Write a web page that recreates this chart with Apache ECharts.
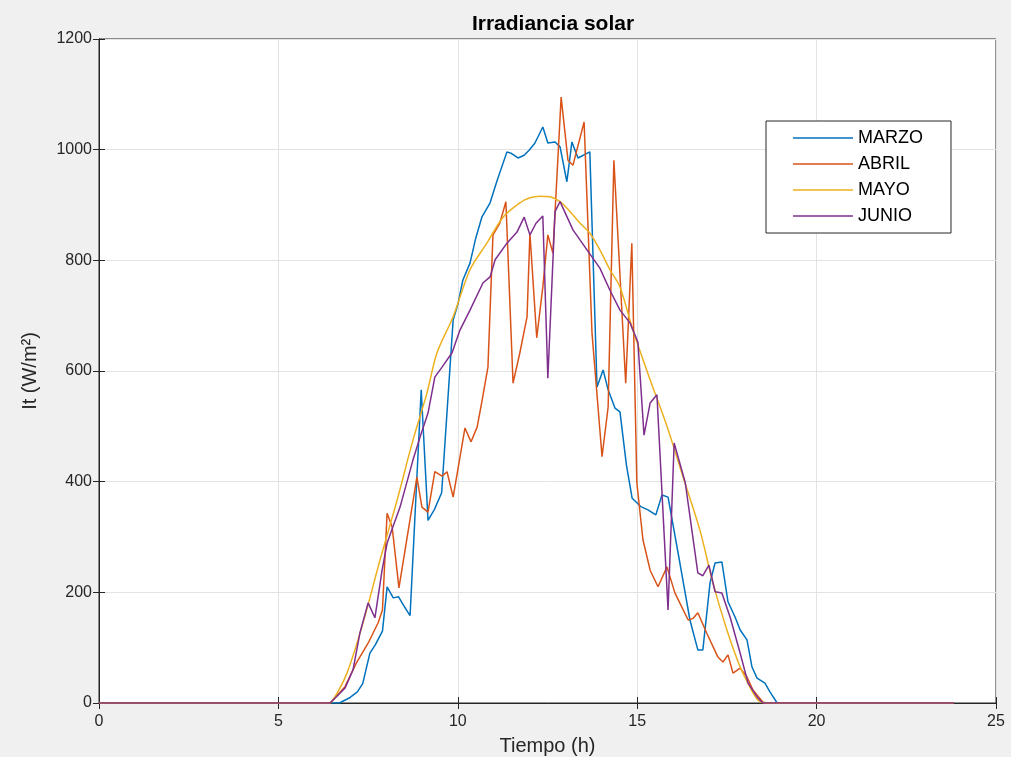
<!DOCTYPE html>
<html>
<head>
<meta charset="utf-8">
<script src="https://cdn.jsdelivr.net/npm/echarts@6/dist/echarts.min.js"></script>
<style>
  html, body { margin: 0; padding: 0; background: #f0f0f0; }
  #main { width: 1011px; height: 757px; }
</style>
</head>
<body>
<div id="main"></div>
<script>
// meses de la leyenda
const meses = ['MARZO', 'ABRIL', 'MAYO', 'JUNIO'];
const colores = ['#0072BD', '#D95319', '#EDB120', '#7E2F8E'];

// [hora, irradiancia W/m2]
const marzo = [[0,0],[6.7,0],[7.0,10],[7.2,20],[7.35,35],[7.55,90],[7.7,105],[7.9,130],[8.03,210],[8.2,190],
  [8.35,192],[8.5,175],[8.67,158],[8.98,566],[9.17,330],[9.35,350],[9.55,380],[9.87,692],[10.0,720],[10.14,764],
  [10.34,795],[10.5,840],[10.67,878],[10.9,904],[11.1,945],[11.37,996],[11.5,993],[11.68,985],[11.85,990],[12.0,1000],
  [12.15,1012],[12.37,1041],[12.51,1012],[12.71,1014],[12.85,1005],[13.04,942],[13.18,1014],[13.35,985],[13.68,996],
  [13.88,571],[14.05,602],[14.19,566],[14.38,533],[14.52,526],[14.7,430],[14.86,370],[15.1,355],[15.3,349],[15.52,340],
  [15.69,376],[15.86,372],[16.19,253],[16.47,150],[16.69,96],[16.83,96],[17.03,217],[17.17,253],[17.36,255],[17.53,183],
  [17.73,155],[17.87,132],[18.06,114],[18.2,65],[18.34,45],[18.56,36],[18.7,20],[18.9,0],[23.83,0]];

const abril = [[0,0],[6.45,0],[6.85,29],[7.17,72],[7.5,108],[7.78,145],[7.9,168],[8.03,343],[8.17,318],[8.36,208],
  [8.86,408],[9.0,354],[9.17,345],[9.36,418],[9.56,410],[9.7,418],[9.87,372],[10.2,497],[10.37,472],[10.54,499],
  [10.68,548],[10.84,607],[10.98,846],[11.17,867],[11.34,906],[11.54,578],[11.73,633],[11.93,698],[12.01,849],[12.2,660],
  [12.37,752],[12.51,846],[12.65,813],[12.88,1095],[13.07,981],[13.21,972],[13.52,1050],[13.74,669],[14.02,445],[14.19,535],
  [14.35,981],[14.68,578],[14.85,831],[14.99,398],[15.16,295],[15.36,240],[15.58,210],[15.83,246],[16.05,199],[16.42,150],
  [16.56,153],[16.69,163],[16.94,126],[17.25,83],[17.39,74],[17.53,87],[17.67,54],[17.87,63],[18.06,47],[18.23,23],
  [18.5,2],[18.6,0],[23.83,0]];

const mayo = [[0,0],[6.4,0],[6.52,5],[6.91,54],[7.36,145],[7.83,258],[8.31,367],[8.75,475],[9.14,560],[9.42,633],
  [9.87,698],[10.34,783],[10.81,831],[11.26,878],[11.73,904],[12.01,913],[12.29,916],[12.57,915],[12.85,906],[13.13,888],
  [13.41,867],[13.68,849],[13.96,819],[14.24,783],[14.52,752],[14.88,674],[15.36,584],[15.83,500],[16.28,408],[16.75,312],
  [17.11,217],[17.5,132],[17.87,65],[18.14,29],[18.37,5],[18.56,0],[23.83,0]];

const junio = [[0,0],[6.44,0],[6.86,27],[7.08,60],[7.27,126],[7.5,181],[7.69,154],[7.89,240],[8.03,289],[8.39,354],
  [8.75,439],[8.95,481],[9.17,524],[9.36,589],[9.56,607],[9.84,633],[10.06,674],[10.34,710],[10.7,759],[10.9,770],
  [11.04,801],[11.37,831],[11.65,851],[11.85,878],[12.01,846],[12.18,867],[12.37,880],[12.51,587],[12.71,888],[12.85,906],
  [13.21,855],[13.6,819],[13.96,786],[14.24,746],[14.52,710],[14.8,687],[15.02,652],[15.19,484],[15.36,542],[15.55,557],
  [15.86,168],[16.03,470],[16.34,398],[16.69,235],[16.83,230],[17.0,249],[17.17,201],[17.36,199],[17.59,155],[17.87,90],
  [18.09,36],[18.34,11],[18.5,0],[23.83,0]];

const datos = [marzo, abril, mayo, junio];

const txt = '#262626';
const fuente = 'Liberation Sans, Arial, sans-serif';

let chart = echarts.init(document.getElementById('main'));

let series = [];
for (let i = 0; i < meses.length; i++) {
  series.push({
    name: meses[i],
    type: 'line',
    data: datos[i],
    symbol: 'none',
    showSymbol: false,
    smooth: i == 2 ? 0.3 : false, // mayo es una curva suave
    lineStyle: { color: colores[i], width: 1.5 },
    itemStyle: { color: colores[i] },
    animation: false
  });
}

let option = {
  backgroundColor: '#f0f0f0',
  animation: false,
  title: {
    text: 'Irradiancia solar',
    left: 548,
    top: 9,
    textAlign: 'center',
    textStyle: { fontFamily: fuente, fontSize: 21, fontWeight: 'bold', color: '#000' }
  },
  legend: {
    data: meses,
    orient: 'vertical',
    left: 766,
    top: 121,
    icon: 'path://M0,0 L60,0 L60,1.5 L0,1.5 Z', // solo una linea, sin circulo
    itemWidth: 60,
    itemHeight: 14,
    itemGap: 8,
    padding: [8, 28, 8, 27],
    backgroundColor: '#fff',
    borderColor: txt,
    borderWidth: 1,
    borderRadius: 0,
    textStyle: { fontFamily: fuente, fontSize: 18, color: '#000' }
  },
  grid: {
    left: 99, right: 15, top: 39, bottom: 54,
    containLabel: false,
    outerBoundsMode: 'none',
    show: true,
    backgroundColor: '#fff',
    borderColor: txt,
    borderWidth: 1
  },
  xAxis: [{
    type: 'value',
    min: 0, max: 25, interval: 5,
    name: 'Tiempo (h)',
    nameLocation: 'middle',
    nameGap: 33,
    nameTextStyle: { fontFamily: fuente, fontSize: 20, color: txt },
    axisLine: { lineStyle: { color: txt } },
    axisTick: { inside: true, length: 6, lineStyle: { color: txt } },
    axisLabel: { fontFamily: fuente, fontSize: 16, color: txt, margin: 11 },
    splitLine: { lineStyle: { color: '#e3e3e3' } }
  }, {
    type: 'value', position: 'top',
    min: 0, max: 25, interval: 5,
    axisLine: { show: true, lineStyle: { color: txt } },
    axisTick: { show: true, inside: true, length: 6, lineStyle: { color: txt } },
    axisLabel: { show: false },
    splitLine: { show: false }
  }],
  yAxis: [{
    type: 'value',
    min: 0, max: 1200, interval: 200,
    name: 'It (W/m²)',
    nameLocation: 'middle',
    nameGap: 59,
    nameTextStyle: { fontFamily: fuente, fontSize: 20, color: txt },
    axisLine: { show: true, lineStyle: { color: txt } },
    axisTick: { show: true, inside: true, length: 6, lineStyle: { color: txt } },
    axisLabel: { fontFamily: fuente, fontSize: 16, color: txt, margin: 7, formatter: v => String(v) },
    splitLine: { lineStyle: { color: '#e3e3e3' } }
  }, {
    type: 'value', position: 'right',
    min: 0, max: 1200, interval: 200,
    axisLine: { show: true, lineStyle: { color: txt } },
    axisTick: { show: true, inside: true, length: 6, lineStyle: { color: txt } },
    axisLabel: { show: false },
    splitLine: { show: false }
  }],
  series: series
};

chart.setOption(option);
</script>
</body>
</html>
